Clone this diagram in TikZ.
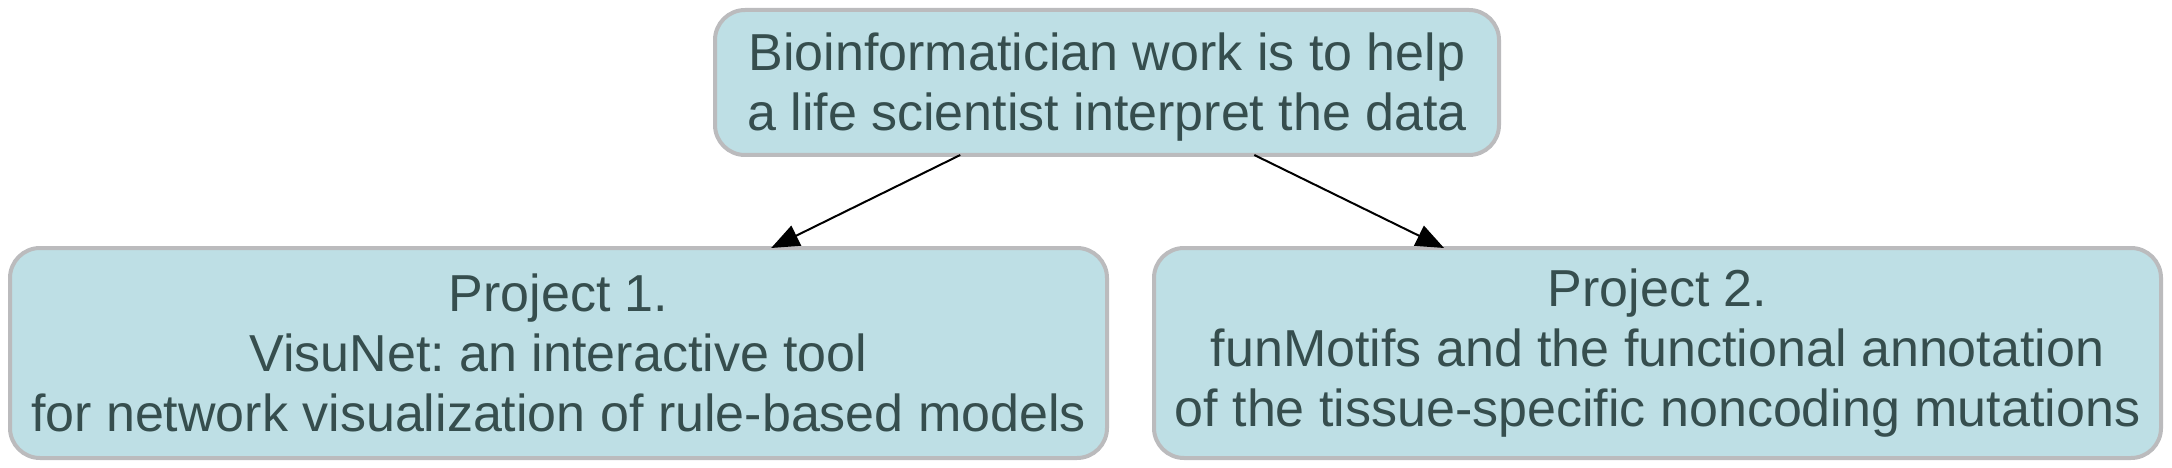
\documentclass[tikz,border=0pt]{standalone}
\usepackage{fontspec}
\setmainfont{Liberation Sans}
\usetikzlibrary{arrows.meta}
\definecolor{boxfill}{RGB}{190,223,229}
\definecolor{boxline}{RGB}{187,187,189}
\definecolor{boxtext}{RGB}{54,78,78}
\frenchspacing
\tikzset{
  box/.style={draw=boxline, line width=4pt, fill=boxfill, rounded corners=30pt,
    text=boxtext, align=center, inner sep=0pt, outer sep=0pt,
    font=\fontsize{52}{60}\selectfont},
  link/.style={-{Triangle[length=28pt,width=22pt]}, line width=2pt, black}
}
\begin{document}
\begin{tikzpicture}[x=1pt,y=1pt]
\useasboundingbox (0,0) rectangle (2172,-468);
\node[box, minimum width=784pt, minimum height=145pt] (top) at (1107,-82.5)
  {\rule{0pt}{46pt}Bioinformatician work is to help\\a life scientist interpret the data};
\node[box, minimum width=1097pt, minimum height=210pt] (left) at (558.5,-353)
  {Project 1.\\VisuNet: an interactive tool\\for network visualization of rule-based models};
\node[box, minimum width=1007pt, minimum height=210pt] (right) at (1657.5,-353)
  {Project 2.\\funMotifs and the functional annotation\\of the tissue-specific noncoding mutations};
\draw[link] (top) -- (left);
\draw[link] (top) -- (right);
\end{tikzpicture}
\end{document}
